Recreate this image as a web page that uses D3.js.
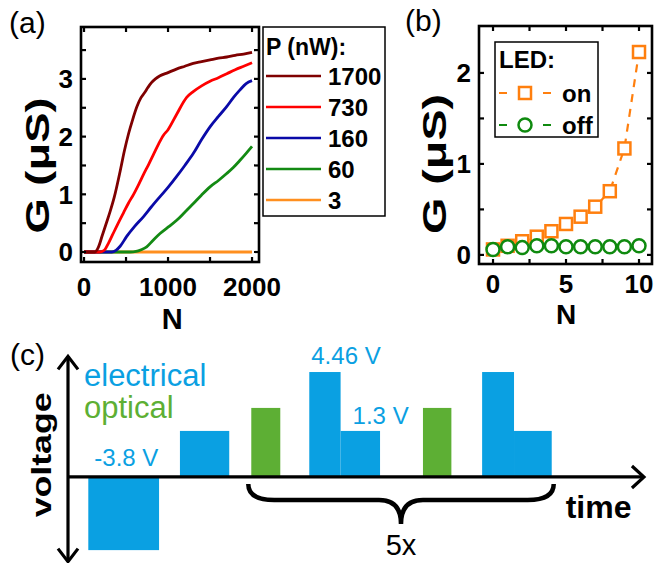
<!DOCTYPE html>
<html><head><meta charset="utf-8">
<script src="https://cdn.jsdelivr.net/npm/d3@7"></script>
<style>body{margin:0;background:#fff}svg{display:block}</style>
</head><body>
<script>
// ---------------- DATA ----------------
// Panel (a): conductance G (uS) vs pulse number N for several optical powers
const powerLabels = ["1700", "730", "160", "60", "3"];
const powerColors = ["#7f0000", "#ff0000", "#0a0aa8", "#138a13", "#ff8f1f"];
const n1700 = [0,130,170,220,270,310,360,430,480,530,580,630,680,720,760,800,850,900,1000,1100,1200,1300,1400,1500,1600,1700,1800,1900,2000];
const g1700 = [0,0,0.08,0.3,0.52,0.7,0.95,1.4,1.75,2.05,2.3,2.52,2.68,2.76,2.85,2.93,3.0,3.05,3.11,3.17,3.22,3.27,3.3,3.33,3.36,3.38,3.41,3.43,3.46];
const n730 = [0,190,240,290,340,400,470,530,590,650,710,770,830,890,944,1000,1100,1222,1300,1400,1500,1600,1700,1800,1900,2000];
const g730 = [0,0,0.03,0.15,0.3,0.48,0.68,0.85,1.0,1.17,1.35,1.52,1.7,1.88,2.02,2.12,2.38,2.68,2.78,2.88,2.96,3.02,3.09,3.16,3.22,3.28];
const n160 = [0,330,380,430,508,600,706,800,905,1000,1103,1200,1302,1400,1500,1600,1698,1780,1857,1930,2000];
const g160 = [0,0,0.03,0.1,0.27,0.44,0.61,0.78,0.96,1.12,1.31,1.5,1.71,1.95,2.17,2.35,2.52,2.68,2.81,2.92,2.97];
const n60 = [0,550,620,680,746,820,905,1000,1103,1200,1302,1400,1500,1600,1698,1780,1857,1930,2000];
const g60 = [0,0,0.01,0.04,0.09,0.2,0.32,0.43,0.55,0.69,0.84,0.99,1.13,1.24,1.36,1.47,1.59,1.71,1.83];
const n3 = [0,2000];
const g3 = [0,0];
const aXTicks = [0,1000,2000];
const aXMinor = [0,500,1000,1500,2000];
const aYTicks = [0,1,2,3];
const aYMinor = [0,0.5,1,1.5,2,2.5,3,3.5];

// Panel (b): G vs N with LED on / off
const ledN = [0,1,2,3,4,5,6,7,8,9,10];
const ledOn = [0.06,0.10,0.15,0.20,0.26,0.34,0.42,0.53,0.70,1.17,2.23];
const ledOff = [0.06,0.09,0.08,0.10,0.10,0.09,0.09,0.09,0.09,0.09,0.10];
const ledLabels = ["on", "off"];
const ledColors = ["#ff7f0e", "#0f8a0f"];
const bXTicks = [0,5,10];
const bXMinor = [0,2.5,5,7.5,10];
const bYTicks = [0,1,2];
const bYMinor = [0,0.5,1,1.5,2];

// Panel (c): pulse scheme (schematic time units, schematic levels)
const pulseType  = ["electrical","electrical","optical","electrical","electrical","optical","electrical","electrical"];
const pulseStart = [3.5, 19.3, 31.6, 41.6, 47.0, 61.2, 71.4, 76.9];
const pulseEnd   = [15.7, 27.8, 36.6, 47.0, 53.8, 66.1, 76.9, 83.4];
const pulseLevel = [-1.59, 1.0, 1.5, 2.28, 1.0, 1.5, 2.28, 1.0];
const voltLabels = ["-3.8 V", "4.46 V", "1.3 V"];
const voltLabelPulse = [0, 3, 4];
const repeatLabel = "5x";

// ---------------- DRAW ----------------
const F = "Arial, 'Liberation Sans', Helvetica, sans-serif";
const svg = d3.select("body").append("svg").attr("width", 665).attr("height", 563);

function frameTicks(g, xs, ys, xMinor, yMinor, len) {
  const [x0, x1] = xs.range(), [y0, y1] = ys.range();
  g.append("rect").attr("x", x0).attr("y", y1).attr("width", x1 - x0).attr("height", y0 - y1)
    .attr("fill", "none").attr("stroke", "#000").attr("stroke-width", 2.6);
  xMinor.forEach(v => {
    g.append("line").attr("x1", xs(v)).attr("x2", xs(v)).attr("y1", y0).attr("y2", y0 - len).attr("stroke", "#000").attr("stroke-width", 2.2);
    g.append("line").attr("x1", xs(v)).attr("x2", xs(v)).attr("y1", y1).attr("y2", y1 + len).attr("stroke", "#000").attr("stroke-width", 2.2);
  });
  yMinor.forEach(v => {
    g.append("line").attr("x1", x0).attr("x2", x0 + len).attr("y1", ys(v)).attr("y2", ys(v)).attr("stroke", "#000").attr("stroke-width", 2.2);
    g.append("line").attr("x1", x1).attr("x2", x1 - len).attr("y1", ys(v)).attr("y2", ys(v)).attr("stroke", "#000").attr("stroke-width", 2.2);
  });
}
function tickLabels(g, xs, ys, xT, yT, xBase, yRight) {
  xT.forEach(v => g.append("text").attr("x", xs(v)).attr("y", xBase).attr("text-anchor", "middle")
    .attr("font-family", F).attr("font-weight", "bold").attr("font-size", 26).text(v));
  yT.forEach(v => g.append("text").attr("x", yRight).attr("y", ys(v)).attr("dy", "0.36em").attr("text-anchor", "end")
    .attr("font-family", F).attr("font-weight", "bold").attr("font-size", 26).text(v));
}
function panelLabel(t, x, y) {
  svg.append("text").attr("x", x).attr("y", y).attr("font-family", F).attr("font-size", 30).text(t);
}

// ----- Panel (a)
const xA = d3.scaleLinear().domain([-36, 2083]).range([81, 259]);
const yA = d3.scaleLinear().domain([-0.173, 3.9]).range([262, 27]);
const gA = svg.append("g");
const seriesA = [[n1700, g1700], [n730, g730], [n160, g160], [n60, g60], [n3, g3]];
const lineA = d3.line().x(d => xA(d[0])).y(d => yA(d[1])).curve(d3.curveMonotoneX);
for (let i = seriesA.length - 1; i >= 0; i--) {
  const pts = seriesA[i][0].map((n, j) => [n, seriesA[i][1][j]]);
  gA.append("path").attr("d", lineA(pts)).attr("fill", "none").attr("stroke", powerColors[i]).attr("stroke-width", 2.8);
}
frameTicks(gA, xA, yA, aXMinor, aYMinor, 5);
tickLabels(gA, xA, yA, aXTicks, aYTicks, 296, 73);
gA.append("text").attr("x", xA(1050)).attr("y", 329).attr("text-anchor", "middle").attr("font-family", F)
  .attr("font-weight", "bold").attr("font-size", 29).text("N");
gA.append("text").attr("transform", `translate(49,${yA(1.5)}) rotate(-90)`).attr("text-anchor", "middle")
  .attr("font-family", F).attr("font-weight", "bold").attr("font-size", 33)
  .attr("textLength", 136).attr("lengthAdjust", "spacingAndGlyphs").text("G (μS)");
// legend (a)
const legA = gA.append("g");
legA.append("rect").attr("x", 263).attr("y", 27).attr("width", 122).attr("height", 189)
  .attr("fill", "#fff").attr("stroke", "#000").attr("stroke-width", 1.5);
legA.append("text").attr("x", 266).attr("y", 55).attr("font-family", F).attr("font-weight", "bold").attr("font-size", 23).text("P (nW):");
powerLabels.forEach((p, i) => {
  const y = 76 + i * 31;
  legA.append("line").attr("x1", 266).attr("x2", 321).attr("y1", y).attr("y2", y).attr("stroke", powerColors[i]).attr("stroke-width", 2.6);
  legA.append("text").attr("x", 328).attr("y", y).attr("dy", "0.36em").attr("font-family", F).attr("font-weight", "bold").attr("font-size", 24).text(p);
});
panelLabel("(a)", 9, 33);

// ----- Panel (b)
const xB = d3.scaleLinear().domain([-0.96, 10.89]).range([479, 652]);
const yB = d3.scaleLinear().domain([-0.1, 2.516]).range([264, 26]);
const gB = svg.append("g");
const lineB = d3.line().x((d, i) => xB(ledN[i])).y(d => yB(d));
gB.append("path").attr("d", lineB(ledOn)).attr("fill", "none").attr("stroke", ledColors[0]).attr("stroke-width", 2.2).attr("stroke-dasharray", "8,7");
gB.append("path").attr("d", lineB(ledOff)).attr("fill", "none").attr("stroke", ledColors[1]).attr("stroke-width", 2.2).attr("stroke-dasharray", "8,7");
gB.selectAll("rect.on").data(ledOn).enter().append("rect")
  .attr("x", (d, i) => xB(ledN[i]) - 6).attr("y", d => yB(d) - 6).attr("width", 12).attr("height", 12)
  .attr("fill", "#fff").attr("stroke", ledColors[0]).attr("stroke-width", 2.5);
gB.selectAll("circle.off").data(ledOff).enter().append("circle")
  .attr("cx", (d, i) => xB(ledN[i])).attr("cy", d => yB(d)).attr("r", 6.5)
  .attr("fill", "#fff").attr("stroke", ledColors[1]).attr("stroke-width", 2.5);
frameTicks(gB, xB, yB, bXMinor, bYMinor, 5);
tickLabels(gB, xB, yB, bXTicks, bYTicks, 293, 471);
gB.append("text").attr("x", xB(5)).attr("y", 324).attr("text-anchor", "middle").attr("font-family", F)
  .attr("font-weight", "bold").attr("font-size", 28).text("N");
gB.append("text").attr("transform", `translate(446,${yB(1.0)}) rotate(-90)`).attr("text-anchor", "middle")
  .attr("font-family", F).attr("font-weight", "bold").attr("font-size", 33)
  .attr("textLength", 140).attr("lengthAdjust", "spacingAndGlyphs").text("G (μS)");
// legend (b)
const legB = gB.append("g");
legB.append("rect").attr("x", 495).attr("y", 42).attr("width", 103).attr("height", 95)
  .attr("fill", "#fff").attr("stroke", "#000").attr("stroke-width", 1.5);
legB.append("text").attr("x", 499).attr("y", 68).attr("font-family", F).attr("font-weight", "bold").attr("font-size", 24).text("LED:");
ledLabels.forEach((l, i) => {
  const y = 93 + i * 32;
  legB.append("line").attr("x1", 499).attr("x2", 551).attr("y1", y).attr("y2", y).attr("stroke", ledColors[i])
    .attr("stroke-width", 2.2).attr("stroke-dasharray", "8,36");
  if (i === 0) legB.append("rect").attr("x", 519).attr("y", y - 6).attr("width", 12).attr("height", 12)
    .attr("fill", "#fff").attr("stroke", ledColors[i]).attr("stroke-width", 2.5);
  else legB.append("circle").attr("cx", 525).attr("cy", y).attr("r", 6.5)
    .attr("fill", "#fff").attr("stroke", ledColors[i]).attr("stroke-width", 2.5);
  legB.append("text").attr("x", 562).attr("y", y).attr("dy", "0.36em").attr("font-family", F).attr("font-weight", "bold").attr("font-size", 24).text(l);
});
panelLabel("(b)", 405, 31);

// ----- Panel (c)
const BLUE = "#0aa0e2", GREEN = "#5daf34";
const xC = d3.scaleLinear().domain([0, 100]).range([68, 648]);
const yC = d3.scaleLinear().domain([-1.87, 2.65]).range([563, 355]);
const gC = svg.append("g");
pulseType.forEach((t, i) => {
  const v = pulseLevel[i];
  gC.append("rect").attr("x", xC(pulseStart[i])).attr("width", xC(pulseEnd[i]) - xC(pulseStart[i]))
    .attr("y", Math.min(yC(v), yC(0))).attr("height", Math.abs(yC(v) - yC(0)))
    .attr("fill", t === "electrical" ? BLUE : GREEN);
});
// axes with arrows
const ax = gC.append("g").attr("stroke", "#000").attr("stroke-width", 3.2).attr("fill", "none");
ax.append("line").attr("x1", xC(0)).attr("x2", xC(0)).attr("y1", yC(2.62)).attr("y2", yC(-1.84));
ax.append("polyline").attr("points", `${xC(0)-10},${yC(2.62)+13} ${xC(0)},${yC(2.62)} ${xC(0)+10},${yC(2.62)+13}`);
ax.append("polyline").attr("points", `${xC(0)-10},${yC(-1.84)-13} ${xC(0)},${yC(-1.84)} ${xC(0)+10},${yC(-1.84)-13}`);
ax.append("line").attr("x1", xC(0)).attr("x2", xC(99.3)).attr("y1", yC(0)).attr("y2", yC(0));
ax.append("polyline").attr("points", `${xC(99.3)-12},${yC(0)-11} ${xC(99.3)},${yC(0)} ${xC(99.3)-12},${yC(0)+11}`);
gC.append("text").attr("transform", `translate(51,${yC(0.48)}) rotate(-90)`).attr("text-anchor", "middle")
  .attr("font-family", F).attr("font-weight", "bold").attr("font-size", 28)
  .attr("textLength", 125).attr("lengthAdjust", "spacingAndGlyphs").text("voltage");
gC.append("text").attr("x", xC(85.8)).attr("y", 518).attr("font-family", F).attr("font-weight", "bold").attr("font-size", 32).text("time");
// legend texts
gC.append("text").attr("x", 84).attr("y", 386).attr("font-family", F).attr("font-size", 31).attr("fill", BLUE).text("electrical");
gC.append("text").attr("x", 84).attr("y", 418).attr("font-family", F).attr("font-size", 31).attr("fill", GREEN).text("optical");
// voltage labels
voltLabels.forEach((t, k) => {
  const i = voltLabelPulse[k];
  let x, y;
  if (pulseLevel[i] < 0) { x = xC(pulseStart[i]) + 6; y = yC(0) - 11; }
  else if (k === 1) { x = xC(pulseStart[i]) + 2; y = yC(pulseLevel[i]) - 8; }
  else { x = xC(pulseStart[i]) + 12; y = yC(pulseLevel[i]) - 7; }
  gC.append("text").attr("x", x).attr("y", y).attr("font-family", F).attr("font-size", 24).attr("fill", BLUE).text(t);
});
// brace under repeated section
const bx0 = xC(pulseStart[2]) - 3, bx1 = xC(pulseEnd[7]) + 2, bm = (bx0 + bx1) / 2;
const byT = yC(0) + 7, byM = yC(0) + 23, byTip = yC(0) + 47;
gC.append("path").attr("d",
  `M${bx0},${byT} Q${bx0},${byM} ${bx0+26},${byM} L${bm-22},${byM} Q${bm},${byM} ${bm},${byTip} Q${bm},${byM} ${bm+22},${byM} L${bx1-26},${byM} Q${bx1},${byM} ${bx1},${byT}`)
  .attr("fill", "none").attr("stroke", "#000").attr("stroke-width", 4.5);
gC.append("text").attr("x", bm).attr("y", 555).attr("text-anchor", "middle").attr("font-family", F).attr("font-size", 29).text(repeatLabel);
panelLabel("(c)", 10, 365);
</script>
</body></html>
